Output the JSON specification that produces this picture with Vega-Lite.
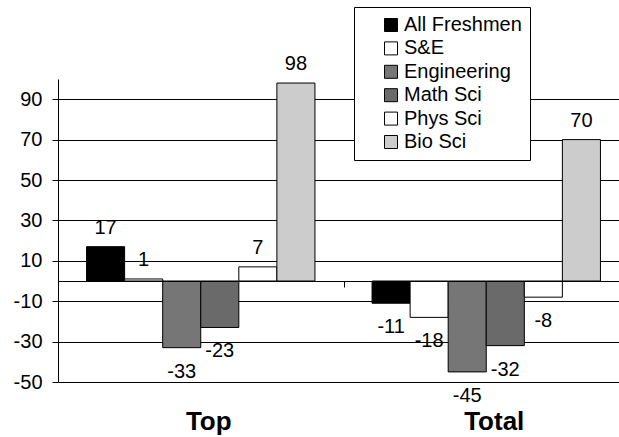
{
  "$schema": "https://vega.github.io/schema/vega-lite/v6.json",
  "autosize": {"type": "none"},
  "padding": {"left": 58, "top": 79, "right": 0, "bottom": 55},
  "width": 561,
  "height": 303,
  "background": "white",
  "config": {
    "view": {"stroke": null},
    "font": "Liberation Sans",
    "locale": {
      "number": {"decimal": ".", "thousands": ",", "grouping": [3], "currency": ["$", ""], "minus": "-"}
    },
    "text": {"font": "Liberation Sans", "fontSize": 20, "color": "black"}
  },
  "data": {
    "values": [
      {"group": "Top", "series": "All Freshmen", "value": 17},
      {"group": "Top", "series": "S&E", "value": 1},
      {"group": "Top", "series": "Engineering", "value": -33},
      {"group": "Top", "series": "Math Sci", "value": -23},
      {"group": "Top", "series": "Phys Sci", "value": 7},
      {"group": "Top", "series": "Bio Sci", "value": 98},
      {"group": "Total", "series": "All Freshmen", "value": -11},
      {"group": "Total", "series": "S&E", "value": -18},
      {"group": "Total", "series": "Engineering", "value": -45},
      {"group": "Total", "series": "Math Sci", "value": -32},
      {"group": "Total", "series": "Phys Sci", "value": -8},
      {"group": "Total", "series": "Bio Sci", "value": 70}
    ]
  },
  "encoding": {
    "x": {
      "field": "group",
      "type": "nominal",
      "sort": ["Top", "Total"],
      "scale": {"range": [0, 571], "paddingInner": 0, "paddingOuter": 0},
      "title": null
    },
    "xOffset": {
      "field": "series",
      "type": "nominal",
      "sort": ["All Freshmen", "S&E", "Engineering", "Math Sci", "Phys Sci", "Bio Sci"],
      "scale": {"paddingInner": 0, "paddingOuter": 0.75}
    },
    "y": {
      "field": "value",
      "type": "quantitative",
      "scale": {"domain": [-50, 100], "nice": false, "zero": false},
      "title": null
    }
  },
  "layer": [
    {
      "mark": {"type": "bar", "stroke": "black", "strokeWidth": 1},
      "encoding": {
        "x": {
          "field": "group",
          "type": "nominal",
          "sort": ["Top", "Total"],
          "axis": {
            "orient": "bottom",
            "domain": false,
            "ticks": false,
            "labelFont": "Liberation Sans",
            "labelFontSize": 26,
            "labelFontWeight": "bold",
            "labelColor": "black",
            "labelPadding": 26,
            "labelOffset": 8,
            "labelAngle": 0
          },
          "title": null
        },
        "y": {
          "field": "value",
          "type": "quantitative",
          "axis": {
            "values": [-50, -30, -10, 10, 30, 50, 70, 90],
            "grid": true,
            "gridColor": "black",
            "gridOpacity": 1,
            "gridWidth": 1,
            "domain": true,
            "domainColor": "black",
            "domainWidth": 1,
            "tickColor": "black",
            "tickSize": 6,
            "tickWidth": 1,
            "labelFont": "Liberation Sans",
            "labelFontSize": 20,
            "labelColor": "black",
            "labelPadding": 10
          },
          "title": null
        },
        "color": {
          "field": "series",
          "type": "nominal",
          "sort": ["All Freshmen", "S&E", "Engineering", "Math Sci", "Phys Sci", "Bio Sci"],
          "scale": {
            "domain": ["All Freshmen", "S&E", "Engineering", "Math Sci", "Phys Sci", "Bio Sci"],
            "range": ["#000000", "#ffffff", "#767676", "#6a6a6a", "#ffffff", "#cccccc"]
          },
          "legend": {
            "title": null,
            "orient": "none",
            "legendX": 296,
            "legendY": -72,
            "strokeColor": "black",
            "fillColor": "white",
            "padding": 8,
            "symbolType": "square",
            "symbolSize": 169,
            "symbolStrokeColor": "black",
            "symbolStrokeWidth": 1,
            "symbolOffset": 19,
            "labelFont": "Liberation Sans",
            "labelFontSize": 20,
            "labelColor": "black",
            "labelOffset": 3,
            "rowPadding": 3.4
          }
        }
      }
    },
    {
      "mark": {"type": "rule", "color": "black", "strokeWidth": 1, "yOffset": 0.5},
      "encoding": {"y": {"datum": 0}, "x": null, "xOffset": null}
    },
    {
      "transform": [{"filter": "datum.value > 0"}],
      "mark": {"type": "text", "baseline": "alphabetic", "align": "center", "dy": -13},
      "encoding": {
        "x": {
          "field": "group",
          "type": "nominal",
          "sort": ["Top", "Total"],
          "axis": {
            "orient": "top",
            "offset": -202,
            "domain": false,
            "labels": false,
            "ticks": true,
            "tickBand": "extent",
            "tickSize": -6,
            "tickColor": "black",
            "tickWidth": 1
          },
          "title": null
        },
        "text": {"field": "value", "type": "quantitative"}
      }
    },
    {
      "transform": [{"filter": "datum.value < 0"}],
      "mark": {"type": "text", "baseline": "top", "align": "center", "dy": 14},
      "encoding": {
        "x": {"field": "group", "type": "nominal", "sort": ["Top", "Total"], "axis": null, "title": null},
        "text": {"field": "value", "type": "quantitative"}
      }
    }
  ],
  "resolve": {"axis": {"x": "independent"}}
}
